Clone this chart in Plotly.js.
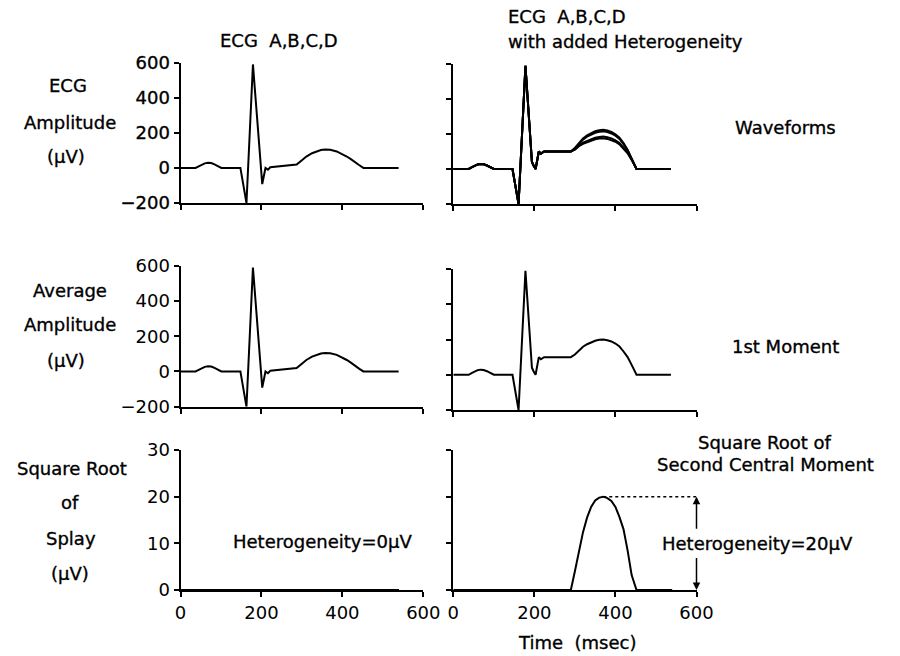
<!DOCTYPE html>
<html>
<head>
<meta charset="utf-8">
<script src="https://cdn.plot.ly/plotly-3.0.1.min.js"></script>
<style>
  html, body { margin: 0; padding: 0; background: #fff; }
  #chart { width: 900px; height: 656px; }
  /* slightly heavier lettering for labels and tick numbers */
  #chart .annotation-text, #chart .xtick text, #chart .ytick text {
    stroke: #000; stroke-width: 0.35px;
  }
</style>
</head>
<body>
<div id="chart"></div>
<script>
// ECG A,B,C,D (all four leads identical) – time in msec, amplitude in µV
const ecgTime = [0, 37, 45, 52, 60, 68, 76, 84, 92, 101, 148, 163, 179, 202, 210, 216, 222, 240, 260, 287,
                 300, 311, 325, 336, 347, 357, 370, 386, 400, 411, 421, 431, 442, 452, 539];
const ecgAmp  = [0, 0, 9, 18, 26, 30, 28, 20, 10, 0, 0, -200, 590, -92, 0, -10, 4, 9, 13, 19,
                 44, 65, 84, 95, 102, 105, 103, 94, 80, 65, 50, 32, 15, 0, 0];

// ECG with added heterogeneity: shared P-QRS-ST part
const hetPreTime = [0, 38, 45, 52, 60, 67, 75, 83, 91, 100, 146, 161, 178, 194, 198, 203, 211, 216, 224, 290];
const hetPreAmp  = [0, 0, 9, 18, 26, 29, 27, 20, 10, 0, 0, -200, 590, 40, 20, 0, 100, 88, 100, 100];

// T waves of the four leads (differ in height)
const tWaveTime = [300, 310, 320, 330, 340, 350, 360, 370, 380, 390, 400, 410, 420, 430, 440, 452, 537];
const tWaveA = [120, 150, 174, 192, 205, 216, 222, 224, 220, 212, 198, 179, 148, 110, 60, 0, 0];
const tWaveB = [118, 146, 168, 185, 197, 207, 213, 215, 211, 203, 190, 172, 142, 106, 58, 0, 0];
const tWaveC = [112, 134, 150, 161, 171, 179, 183, 185, 181, 175, 164, 148, 122, 94, 54, 0, 0];
const tWaveD = [110, 130, 144, 154, 163, 170, 174, 176, 172, 166, 156, 141, 116, 90, 52, 0, 0];

// 1st moment (average) of the heterogeneous leads, T-wave part
const tWaveMean = [115, 140, 159, 173, 184, 193, 198, 200, 196, 189, 177, 160, 132, 100, 56, 0, 0];

// Square root of splay / second central moment
const splayFlatTime = [0, 540];
const splayFlat = [0, 0];
const splayTime = [0, 290, 300, 310, 320, 330, 340, 350, 360, 370, 380, 390, 400, 410, 420, 430, 440, 452, 540];
const splayHet  = [0, 0, 4, 8.5, 12.4, 15.5, 17.8, 19.2, 19.8, 20, 19.7, 19.1, 17.8, 15.6, 13, 8.5, 3.2, 0, 0];

const timeTicks = [0, 200, 400, 600];
const ampTicks = [-200, 0, 200, 400, 600];
const splayTicks = [0, 10, 20, 30];

const FONT = 'DejaVu Sans, Arial, sans-serif';
const tickFont = { family: FONT, size: 18, color: '#000' };

function line(x, y, xa, ya) {
  return { x: x, y: y, xaxis: xa, yaxis: ya, type: 'scatter', mode: 'lines',
           line: { color: '#000', width: 2 }, hoverinfo: 'skip', cliponaxis: false };
}

const hetX = hetPreTime.concat(tWaveTime);
const traces = [
  line(ecgTime, ecgAmp, 'x', 'y'),
  line(hetX, hetPreAmp.concat(tWaveA), 'x2', 'y2'),
  line(hetX, hetPreAmp.concat(tWaveB), 'x2', 'y2'),
  line(hetX, hetPreAmp.concat(tWaveC), 'x2', 'y2'),
  line(hetX, hetPreAmp.concat(tWaveD), 'x2', 'y2'),
  line(ecgTime, ecgAmp, 'x3', 'y3'),
  line(hetX, hetPreAmp.concat(tWaveMean), 'x4', 'y4'),
  line(splayFlatTime, splayFlat, 'x5', 'y5'),
  line(splayTime, splayHet, 'x6', 'y6')
];

function axisBase(extra) {
  return Object.assign({
    ticks: 'outside', ticklen: 5, tickwidth: 2, tickcolor: '#000',
    showline: true, linewidth: 2, linecolor: '#000',
    showgrid: false, zeroline: false, tickfont: tickFont, fixedrange: true
  }, extra);
}

const domL = [180.5 / 900, 423.3 / 900];
const domR = [453.3 / 900, 696.5 / 900];
const py = p => 1 - p / 656;

function xAxis(dom, anchor, labels) {
  return axisBase({ domain: dom, anchor: anchor, range: [0, 600], tickvals: timeTicks,
                    showticklabels: labels });
}
function yAxis(dom, anchor, range, ticks, labels) {
  return axisBase({ domain: dom, anchor: anchor, range: range, tickvals: ticks,
                    showticklabels: labels });
}

// peak of the heterogeneity curve, used for the reference line and arrow
let peakIdx = 0;
splayHet.forEach((v, i) => { if (v > splayHet[peakIdx]) peakIdx = i; });
const peakT = splayTime[peakIdx];
const peakV = splayHet[peakIdx];

function label(text, x, y, extra) {
  return Object.assign({ text: text, xref: 'paper', yref: 'paper', x: x / 900, y: py(y),
                         xanchor: 'center', yanchor: 'middle', showarrow: false,
                         font: { family: FONT, size: 18, color: '#000' } }, extra || {});
}

const annotations = [
  label('ECG  A,B,C,D', 279, 40),
  label('ECG  A,B,C,D', 506, 16, { xanchor: 'left' }),
  label('with added Heterogeneity', 506, 41, { xanchor: 'left' }),
  label('ECG', 68, 85),
  label('Amplitude', 70, 122),
  label('(μV)', 66, 156),
  label('Average', 70, 290),
  label('Amplitude', 70, 324),
  label('(μV)', 66, 360),
  label('Square Root', 72, 468),
  label('of', 70, 502),
  label('Splay', 71, 538),
  label('(μV)', 70, 573),
  label('Waveforms', 785, 128),
  label('1st Moment', 785, 346),
  label('Square Root of', 765, 442),
  label('Second Central Moment', 765, 464),
  label('Heterogeneity=0μV', 322, 541),
  label('Heterogeneity=20μV', 757, 543),
  label('Time  (msec)', 577, 642),
  // double-headed arrow showing the heterogeneity at the peak
  { text: '', xref: 'x6', yref: 'y6', axref: 'x6', ayref: 'y6',
    x: 600, y: peakV, ax: 600, ay: peakV * 0.64,
    showarrow: true, arrowhead: 2, arrowsize: 1, arrowwidth: 1.5, arrowcolor: '#000' },
  { text: '', xref: 'x6', yref: 'y6', axref: 'x6', ayref: 'y6',
    x: 600, y: 0, ax: 600, ay: peakV * 0.36,
    showarrow: true, arrowhead: 2, arrowsize: 1, arrowwidth: 1.5, arrowcolor: '#000' }
];

const shapes = [
  { type: 'line', xref: 'x6', yref: 'y6', x0: peakT, x1: 600, y0: peakV, y1: peakV,
    line: { color: '#000', width: 1.5, dash: 'dot' } }
];

const layout = {
  width: 900, height: 656,
  margin: { l: 0, r: 0, t: 0, b: 0 },
  paper_bgcolor: '#fff', plot_bgcolor: '#fff',
  showlegend: false,
  font: { family: FONT, size: 18, color: '#000' },
  xaxis:  xAxis(domL, 'y', false),
  yaxis:  yAxis([py(203), py(62.7)], 'x', [-200, 600], ampTicks, true),
  xaxis2: xAxis(domR, 'y2', false),
  yaxis2: yAxis([py(204), py(64)], 'x2', [-200, 600], ampTicks, false),
  xaxis3: xAxis(domL, 'y3', false),
  yaxis3: yAxis([py(406.7), py(265.7)], 'x3', [-200, 600], ampTicks, true),
  xaxis4: xAxis(domR, 'y4', false),
  yaxis4: yAxis([py(410), py(269)], 'x4', [-200, 600], ampTicks, false),
  xaxis5: xAxis(domL, 'y5', true),
  yaxis5: yAxis([py(590), py(450)], 'x5', [0, 30], splayTicks, true),
  xaxis6: xAxis(domR, 'y6', true),
  yaxis6: yAxis([py(590), py(450)], 'x6', [0, 30], splayTicks, false),
  annotations: annotations,
  shapes: shapes
};

Plotly.newPlot('chart', traces, layout, { staticPlot: true, displayModeBar: false });
</script>
</body>
</html>
